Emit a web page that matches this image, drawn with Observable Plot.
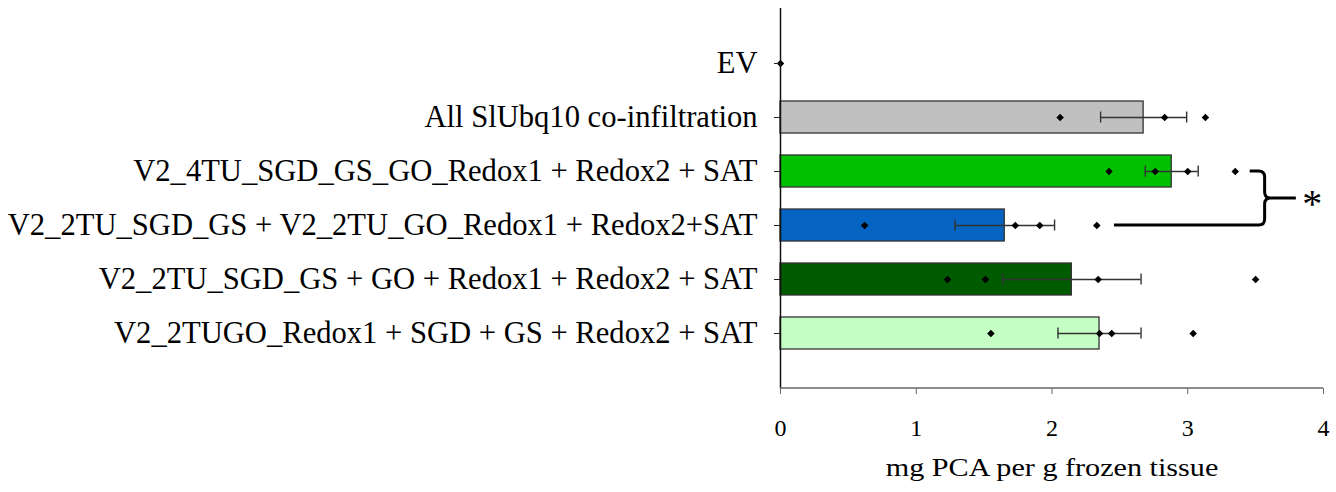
<!DOCTYPE html>
<html>
<head>
<meta charset="utf-8">
<script src="https://cdn.jsdelivr.net/npm/d3@7"></script>
<script src="https://cdn.jsdelivr.net/npm/@observablehq/plot@0.6"></script>
<style>
  html, body { margin: 0; padding: 0; background: #fff; }
  #chart svg { display: block; }
</style>
</head>
<body>
<div id="chart"></div>
<script>
// Constructs, top to bottom
const categories = [
  "EV",
  "All SlUbq10 co-infiltration",
  "V2_4TU_SGD_GS_GO_Redox1 + Redox2 + SAT",
  "V2_2TU_SGD_GS + V2_2TU_GO_Redox1 + Redox2+SAT",
  "V2_2TU_SGD_GS + GO + Redox1 + Redox2 + SAT",
  "V2_2TUGO_Redox1 + SGD + GS + Redox2 + SAT"
];
const barColors = ["#c0c0c0", "#c0c0c0", "#00c000", "#0563c1", "#005a00", "#c6ffc6"];

// Mean PCA yield (mg per g frozen tissue) and standard error
const means = [0, 2.675, 2.882, 1.652, 2.146, 2.35];
const stdErrors = [0, 0.317, 0.195, 0.367, 0.51, 0.306];

// Individual biological replicates
const replicates = [
  [0],
  [2.06, 2.83, 3.13],
  [2.42, 2.76, 3.0, 3.35],
  [0.62, 1.73, 1.91, 2.33],
  [1.23, 1.51, 2.34, 3.5],
  [1.55, 2.35, 2.44, 3.04]
];

const xTicks = [0, 1, 2, 3, 4];
const xTitle = "mg PCA per g frozen tissue";

// Significance bracket between the 4TU and the split 2TU constructs
const bracketTopRow = 2;
const bracketBottomRow = 3;
const bracketTopStart = 3.46;
const bracketBottomStart = 2.46;
const bracketSpine = 3.57;
const bracketTip = 3.8;
const starX = 3.92;
const significance = "*";

const bars = categories.map((c, i) => ({category: c, mean: means[i], se: stdErrors[i], color: barColors[i]}));
const errBars = bars.filter(d => d.se > 0);
const points = categories.flatMap((c, i) => replicates[i].map(v => ({category: c, value: v})));

const ink = "#333";
const serif = "'Liberation Serif', 'Times New Roman', Times, serif";

function annotations(index, scales, values, dims) {
  const {x, y} = scales;
  const half = y.bandwidth ? y.bandwidth() / 2 : 0;
  const y1 = y(categories[bracketTopRow]) + half;
  const y2 = y(categories[bracketBottomRow]) + half;
  const ym = (y1 + y2) / 2;
  const xs = x(bracketSpine);
  const r = 6;
  const g = d3.create("svg:g");
  const p = d3.path();
  p.moveTo(x(bracketTopStart), y1);
  p.lineTo(xs - r, y1);
  p.quadraticCurveTo(xs, y1, xs, y1 + r);
  p.lineTo(xs, ym - r);
  p.quadraticCurveTo(xs, ym, xs + r, ym);
  p.lineTo(x(bracketTip), ym);
  p.moveTo(xs + r, ym);
  p.quadraticCurveTo(xs, ym, xs, ym + r);
  p.lineTo(xs, y2 - r);
  p.quadraticCurveTo(xs, y2, xs - r, y2);
  p.lineTo(x(bracketBottomStart), y2);
  g.append("path")
    .attr("d", p.toString())
    .attr("fill", "none")
    .attr("stroke", "#000")
    .attr("stroke-width", 3);
  g.append("text")
    .attr("x", x(starX))
    .attr("y", ym + 19)
    .attr("text-anchor", "middle")
    .attr("font-size", 40)
    .attr("font-family", serif)
    .attr("fill", "#000")
    .text(significance);
  // baseline of the value axis
  const yb = dims.height - dims.marginBottom;
  g.append("line")
    .attr("x1", x(xTicks[0]))
    .attr("x2", x(xTicks[xTicks.length - 1]))
    .attr("y1", yb)
    .attr("y2", yb)
    .attr("stroke", "#666")
    .attr("stroke-width", 1.5);
  return g.node();
}

const plot = Plot.plot({
  width: 1336,
  height: 492,
  marginLeft: 780,
  marginRight: 13,
  marginTop: 8,
  marginBottom: 104,
  style: {
    fontFamily: serif,
    color: "#000",
    background: "#fff",
    overflow: "visible"
  },
  x: {domain: [xTicks[0], xTicks[xTicks.length - 1]]},
  y: {domain: categories, paddingInner: 0.41, paddingOuter: 0.705},
  color: {type: "identity"},
  marks: [
    Plot.barX(bars.filter(d => d.mean > 0), {
      x: "mean", y: "category", fill: "color", stroke: ink, strokeWidth: 1.3
    }),
    Plot.ruleY(errBars, {
      x1: d => d.mean - d.se, x2: d => d.mean + d.se, y: "category", stroke: ink, strokeWidth: 1.4
    }),
    Plot.tickX(errBars, {
      x: d => d.mean - d.se, y: "category", stroke: ink, strokeWidth: 1.4, insetTop: 10.5, insetBottom: 10.5
    }),
    Plot.tickX(errBars, {
      x: d => d.mean + d.se, y: "category", stroke: ink, strokeWidth: 1.4, insetTop: 10.5, insetBottom: 10.5
    }),
    Plot.dot(points, {x: "value", y: "category", symbol: "diamond2", r: 3.4, fill: "#000"}),
    Plot.ruleX([0], {stroke: "#111", strokeWidth: 1.5}),
    Plot.axisY({tickSize: 6, tickPadding: 17, fontSize: 30.6, label: null, stroke: "#222", fontFamily: serif}),
    Plot.axisX({ticks: xTicks, tickFormat: "d", tickSize: 6, tickPadding: 24, fontSize: 24, label: null, stroke: "#666", fontFamily: serif}),
    Plot.text([xTitle], {frameAnchor: "bottom", dy: 87, fontSize: 26, fill: "#000", fontFamily: serif}),
    annotations
  ]
});

document.getElementById("chart").appendChild(plot);

// The axis title is set in a slightly expanded width
plot.querySelectorAll("text").forEach(t => {
  if (t.textContent === xTitle) {
    const len = t.getComputedTextLength();
    if (len > 0) {
      t.setAttribute("textLength", (len * 1.16).toFixed(2));
      t.setAttribute("lengthAdjust", "spacingAndGlyphs");
    }
  }
});
</script>
</body>
</html>
